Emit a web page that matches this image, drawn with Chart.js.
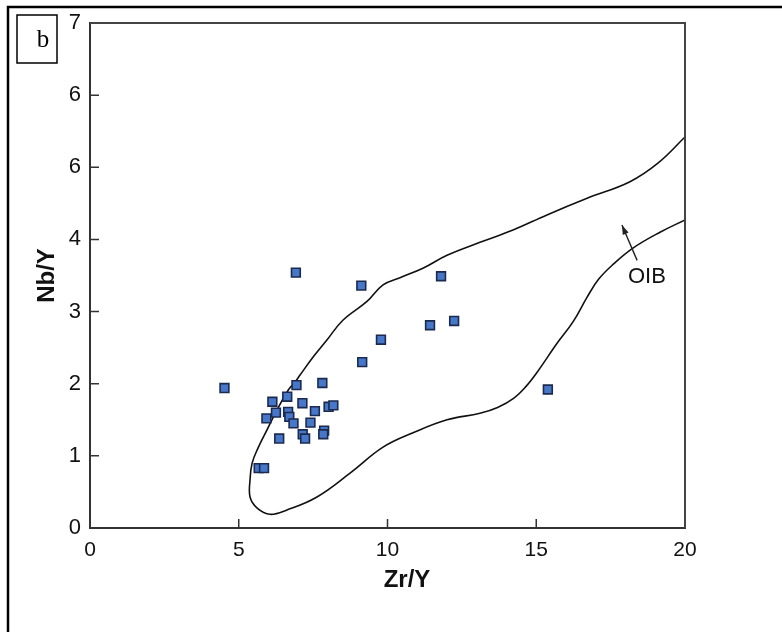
<!DOCTYPE html>
<html lang="en">
  <head>
    <meta charset="UTF-8" />
    <title>Nb/Y vs Zr/Y</title>
    <style>
      body {
        margin: 0;
        background-color: #ffffff;
      }
      #wrap {
        width: 782px;
        height: 632px;
        position: relative;
      }
    </style>
    <script src="https://cdn.jsdelivr.net/npm/chart.js"></script>
  </head>
  <body>
    <div id="wrap">
      <canvas id="chart"></canvas>
    </div>
    <script>
      // sample points (Zr/Y, Nb/Y)
      const sampleX = [6.92, 9.12, 9.78, 9.15, 4.52, 6.94, 7.81, 6.63, 6.13, 7.14, 6.25, 6.66, 5.93,
        6.70, 6.84, 7.56, 8.02, 8.18, 7.41, 6.36, 7.15, 7.23, 7.87, 7.84, 5.67, 5.85,
        11.80, 11.43, 12.24, 15.39];
      const sampleY = [3.54, 3.36, 2.61, 2.30, 1.94, 1.98, 2.01, 1.82, 1.75, 1.73, 1.60, 1.61, 1.52,
        1.54, 1.45, 1.62, 1.68, 1.70, 1.46, 1.24, 1.30, 1.24, 1.35, 1.30, 0.83, 0.83,
        3.49, 2.81, 2.87, 1.92];

      // OIB field outline, from the upper right edge round the tip and back
      const oibX = [20, 19.1, 18.15, 16.71, 15.36, 14.22, 13.11, 12.0, 11.19, 10.42, 9.85, 9.31, 8.50,
        7.97, 7.50, 7.06, 6.89, 6.66, 6.29, 5.95, 5.65, 5.45, 5.38, 5.38, 5.61, 6.05, 6.62,
        7.63, 8.74, 9.85, 10.86, 12.0, 13.11, 13.7, 14.25, 14.65, 15.03, 15.70, 16.24,
        16.71, 17.1, 17.6, 18.25, 19.16, 20];
      const oibY = [5.42, 5.06, 4.80, 4.57, 4.34, 4.13, 3.96, 3.78, 3.60, 3.47, 3.37, 3.14, 2.88,
        2.61, 2.37, 2.12, 2.02, 1.91, 1.64, 1.36, 1.11, 0.90, 0.67, 0.43, 0.28, 0.19, 0.25,
        0.43, 0.76, 1.12, 1.32, 1.50, 1.59, 1.67, 1.80, 1.96, 2.16, 2.56, 2.86,
        3.20, 3.45, 3.66, 3.88, 4.10, 4.27];

      const xTicks = [0, 5, 10, 15, 20];
      const yTickLabels = ['0', '1', '2', '3', '4', '6', '6', '7'];

      const samplePts = sampleX.map((x, i) => ({ x: x, y: sampleY[i] }));
      const oibPts = oibX.map((x, i) => ({ x: x, y: oibY[i] }));

      // frame, label box, inward ticks, OIB note
      const decor = {
        id: 'decor',
        afterDraw(chart) {
          const ctx = chart.ctx;
          const a = chart.chartArea;
          const sx = chart.scales.x;
          const sy = chart.scales.y;
          ctx.save();

          // outer frame
          ctx.strokeStyle = '#000';
          ctx.lineWidth = 2.5;
          ctx.beginPath();
          ctx.moveTo(782, 7);
          ctx.lineTo(8, 7);
          ctx.lineTo(8, 632);
          ctx.stroke();

          // b box
          ctx.lineWidth = 1.5;
          ctx.strokeRect(17, 15, 40, 48);
          ctx.fillStyle = '#000';
          ctx.font = '25px "Liberation Serif", "DejaVu Serif", serif';
          ctx.textAlign = 'center';
          ctx.textBaseline = 'middle';
          ctx.fillText('b', 43, 40);

          // top and right sides of the plot
          ctx.strokeStyle = '#444';
          ctx.lineWidth = 2;
          ctx.beginPath();
          ctx.moveTo(a.left, a.top);
          ctx.lineTo(a.right, a.top);
          ctx.lineTo(a.right, a.bottom);
          ctx.stroke();

          // inward ticks
          ctx.strokeStyle = '#333';
          ctx.lineWidth = 1.5;
          ctx.beginPath();
          for (let v = 1; v <= 6; v++) {
            const py = sy.getPixelForValue(v);
            ctx.moveTo(a.left, py);
            ctx.lineTo(a.left + 9, py);
          }
          [5, 10, 15].forEach((v) => {
            const px = sx.getPixelForValue(v);
            ctx.moveTo(px, a.bottom);
            ctx.lineTo(px, a.bottom - 9);
          });
          ctx.stroke();

          // x axis title
          ctx.fillStyle = '#111';
          ctx.font = 'bold 24px "Liberation Sans", Arial, sans-serif';
          ctx.fillText('Zr/Y', 407, 580);

          // OIB note with arrow
          ctx.font = '22px "Liberation Sans", Arial, sans-serif';
          ctx.fillText('OIB', sx.getPixelForValue(18.72), sy.getPixelForValue(3.48));
          const x0 = sx.getPixelForValue(18.39), y0 = sy.getPixelForValue(3.71);
          const x1 = sx.getPixelForValue(17.88), y1 = sy.getPixelForValue(4.20);
          ctx.strokeStyle = '#222';
          ctx.lineWidth = 1.4;
          ctx.beginPath();
          ctx.moveTo(x0, y0);
          ctx.lineTo(x1, y1);
          ctx.stroke();
          const ang = Math.atan2(y1 - y0, x1 - x0);
          ctx.beginPath();
          ctx.moveTo(x1, y1);
          ctx.lineTo(x1 - 10 * Math.cos(ang - 0.32), y1 - 10 * Math.sin(ang - 0.32));
          ctx.lineTo(x1 - 10 * Math.cos(ang + 0.32), y1 - 10 * Math.sin(ang + 0.32));
          ctx.closePath();
          ctx.fillStyle = '#222';
          ctx.fill();

          ctx.restore();
        }
      };

      const chart = new Chart(document.getElementById('chart'), {
        type: 'scatter',
        data: {
          datasets: [
            {
              label: 'Samples',
              data: samplePts,
              pointStyle: 'rect',
              pointRadius: 6.2,
              backgroundColor: '#4677c8',
              borderColor: '#1b2a4e',
              borderWidth: 1.6,
              order: 1
            },
            {
              label: 'OIB',
              data: oibPts,
              showLine: true,
              pointRadius: 0,
              borderColor: '#111',
              borderWidth: 1.6,
              tension: 0.4,
              fill: false,
              order: 2
            }
          ]
        },
        options: {
          responsive: true,
          maintainAspectRatio: false,
          animation: false,
          layout: { padding: { top: 23, right: 97, left: 0, bottom: 0 } },
          plugins: {
            legend: { display: false },
            tooltip: { enabled: false }
          },
          scales: {
            x: {
              type: 'linear',
              min: 0,
              max: 20,
              afterFit: (s) => { s.height = 104; },
              afterBuildTicks: (s) => { s.ticks = xTicks.map((v) => ({ value: v })); },
              grid: { display: false, drawTicks: false },
              border: { display: true, color: '#333', width: 2 },
              ticks: {
                color: '#111',
                padding: 10,
                maxRotation: 0,
                font: { family: '"Liberation Sans", Arial, sans-serif', size: 21 }
              }
            },
            y: {
              type: 'linear',
              min: 0,
              max: 7,
              afterFit: (s) => { s.width = 90; },
              grid: { display: false, drawTicks: false },
              border: { display: true, color: '#333', width: 2 },
              title: {
                display: true,
                text: 'Nb/Y',
                color: '#111',
                padding: { top: 33, bottom: 0 },
                font: { family: '"Liberation Sans", Arial, sans-serif', size: 24, weight: 'bold' }
              },
              ticks: {
                stepSize: 1,
                color: '#111',
                padding: 9,
                callback: (v) => yTickLabels[v],
                font: { family: '"Liberation Sans", Arial, sans-serif', size: 22 }
              }
            }
          }
        },
        plugins: [decor]
      });
    </script>
  </body>
</html>
